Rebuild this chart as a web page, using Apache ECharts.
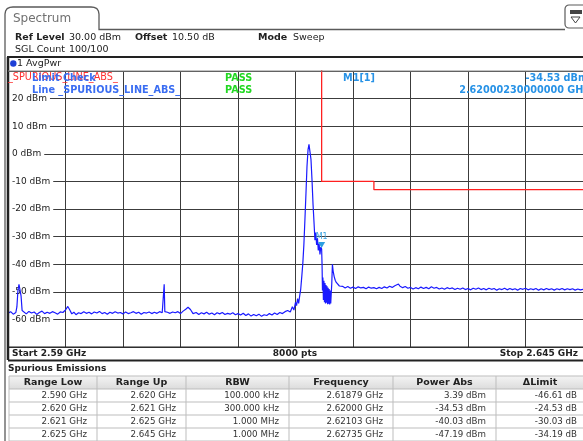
<!DOCTYPE html>
<html><head><meta charset="utf-8">
<script src="https://cdn.jsdelivr.net/npm/echarts@6/dist/echarts.min.js"></script>
<style>html,body{margin:0;padding:0;background:#fff}#c{width:583px;height:441px}</style>
</head><body><div id="c"></div><script>
// ---- data ----
const startMHz = 2590, stopMHz = 2645;
const yMin = -70, yMax = 30, yStep = 10;
const traceFreqMHz = [
2590.00,2590.25,2590.50,2590.75,2590.85,2590.95,2591.05,2591.15,2591.25,2591.35,
2591.50,2591.75,2592.00,2592.25,2592.50,2592.75,2593.00,2593.25,2593.50,2593.75,
2594.00,2594.25,2594.50,2594.75,2595.00,2595.25,2595.50,2595.72,2595.90,2596.10,
2596.30,2596.50,2596.75,2597.00,2597.25,2597.50,2597.75,2598.00,2598.25,2598.50,
2598.75,2599.00,2599.25,2599.50,2599.75,2600.00,2600.25,2600.50,2600.75,2601.00,
2601.25,2601.50,2601.75,2602.00,2602.25,2602.50,2602.75,2603.00,2603.25,2603.50,
2603.75,2604.00,2604.25,2604.50,2604.75,2604.88,2604.94,2605.00,2605.25,2605.50,
2605.75,2606.00,2606.25,2606.50,2606.75,2607.00,2607.22,2607.45,2607.70,2608.00,
2608.25,2608.50,2608.75,2609.00,2609.25,2609.50,2609.75,2610.00,2610.25,2610.50,
2610.75,2611.00,2611.25,2611.50,2611.75,2612.00,2612.25,2612.50,2612.75,2613.00,
2613.25,2613.50,2613.75,2614.00,2614.25,2614.50,2614.75,2615.00,2615.25,2615.50,
2615.75,2616.00,2616.25,2616.50,2616.75,2617.00,2617.20,2617.35,2617.50,2617.60,
2617.70,2617.80,2617.90,2618.00,2618.10,2618.20,2618.30,2618.40,2618.50,2618.60,
2618.70,2618.79,2618.88,2618.98,2619.08,2619.18,2619.28,2619.36,2619.44,2619.52,
2619.60,2619.68,2619.76,2619.84,2619.92,2620.00,2620.04,2620.08,2620.12,2620.17,
2620.22,2620.27,2620.32,2620.37,2620.42,2620.47,2620.52,2620.57,2620.62,2620.67,
2620.72,2620.77,2620.82,2620.87,2620.92,2620.97,2621.03,2621.10,2621.20,2621.30,
2621.40,2621.55,2621.70,2621.85,2622.00,2622.25,2622.50,2622.75,2623.00,2623.25,
2623.50,2623.75,2624.00,2624.25,2624.50,2624.75,2625.00,2625.25,2625.50,2625.75,
2626.00,2626.25,2626.50,2626.75,2627.00,2627.35,2627.50,2627.75,2628.00,2628.25,
2628.50,2628.75,2629.00,2629.25,2629.50,2629.75,2630.00,2630.25,2630.50,2630.75,
2631.00,2631.25,2631.50,2631.75,2632.00,2632.25,2632.50,2632.75,2633.00,2633.25,
2633.50,2633.75,2634.00,2634.25,2634.50,2634.75,2635.00,2635.25,2635.50,2635.75,
2636.00,2636.25,2636.50,2636.75,2637.00,2637.25,2637.50,2637.75,2638.00,2638.25,
2638.50,2638.75,2639.00,2639.25,2639.50,2639.75,2640.00,2640.25,2640.50,2640.75,
2641.00,2641.25,2641.50,2641.75,2642.00,2642.25,2642.50,2642.75,2643.00,2643.25,
2643.50,2643.75,2644.00,2644.25,2644.50,2644.75,2645.00
];
const tracePower = [
-57.8,-57.2,-58.1,-57.5,-55.5,-49.5,-47.3,-47.9,-51.5,-56.8,
-57.4,-58.0,-57.1,-57.7,-57.3,-58.2,-57.5,-57.0,-57.9,-57.4,
-57.8,-57.2,-57.6,-58.1,-57.3,-57.5,-56.6,-55.3,-56.5,-58.0,
-57.4,-58.3,-57.6,-57.9,-57.2,-57.8,-57.4,-58.0,-57.3,-57.7,
-57.1,-57.9,-57.5,-58.1,-57.4,-57.8,-57.2,-57.7,-57.5,-58.0,
-57.3,-57.9,-57.6,-57.2,-57.8,-57.4,-58.1,-57.5,-57.7,-57.3,
-57.9,-57.4,-57.8,-57.2,-57.6,-57.0,-47.3,-57.2,-57.4,-57.8,
-57.3,-57.6,-57.2,-57.9,-57.0,-56.3,-55.6,-56.4,-57.9,-57.5,
-58.2,-57.6,-58.0,-57.4,-58.1,-57.7,-58.3,-57.6,-58.0,-57.5,
-58.2,-57.8,-58.1,-57.6,-58.3,-57.9,-58.4,-57.8,-58.6,-58.0,
-58.8,-58.2,-58.7,-58.1,-58.9,-58.3,-58.6,-57.9,-58.4,-57.7,
-58.2,-57.5,-57.9,-57.2,-56.8,-57.3,-55.4,-56.6,-53.8,-55.0,
-52.5,-54.2,-51.5,-49.0,-44.5,-39.7,-33.0,-24.0,-14.5,-4.5,
1.5,3.39,2.8,-2.0,-9.6,-18.5,-25.5,-31.3,-28.5,-33.0,
-30.5,-35.0,-32.5,-36.5,-33.8,-34.53,-40.0,-49.5,-44.8,-53.0,
-46.0,-53.8,-46.8,-54.2,-47.5,-54.0,-48.0,-54.5,-48.5,-54.3,
-49.0,-54.6,-49.5,-54.2,-50.5,-47.0,-40.03,-42.5,-44.5,-45.8,
-46.6,-47.3,-47.9,-48.2,-48.0,-48.6,-48.1,-48.7,-48.3,-48.8,
-48.2,-48.6,-48.4,-48.9,-48.3,-48.7,-48.5,-48.9,-48.4,-48.8,
-48.2,-48.6,-48.0,-48.4,-47.8,-47.19,-48.0,-48.5,-48.1,-48.7,
-48.4,-49.0,-48.5,-48.9,-48.3,-48.8,-48.4,-48.9,-48.2,-48.7,
-48.4,-49.0,-48.6,-49.1,-48.5,-48.9,-48.6,-49.2,-48.7,-49.1,
-48.6,-49.2,-48.8,-49.3,-48.7,-49.1,-48.6,-49.2,-48.8,-49.3,
-48.7,-49.1,-48.8,-49.4,-48.9,-49.2,-48.7,-49.3,-48.8,-49.2,
-48.9,-49.4,-48.8,-49.1,-48.7,-49.3,-48.9,-49.2,-48.8,-49.4,
-48.9,-49.3,-48.8,-49.2,-48.9,-49.4,-48.9,-49.2,-48.8,-49.3,
-48.9,-49.2,-48.9,-49.4,-49.0,-49.3,-49.1
];
const limitFreqMHz = [2590, 2620, 2620, 2625, 2625, 2645];
const limitPower   = [50, 50, -10, -10, -13, -13];
const markerFreqMHz = 2620.0, markerPower = -34.53;
const tableHeaders = ['Range Low','Range Up','RBW','Frequency','Power Abs','\u0394Limit'];
const rangeLow   = ['2.590 GHz','2.620 GHz','2.621 GHz','2.625 GHz'];
const rangeUp    = ['2.620 GHz','2.621 GHz','2.625 GHz','2.645 GHz'];
const rbw        = ['100.000 kHz','300.000 kHz','1.000 MHz','1.000 MHz'];
const peakFreq   = ['2.61879 GHz','2.62000 GHz','2.62103 GHz','2.62735 GHz'];
const powerAbs   = ['3.39 dBm','-34.53 dBm','-40.03 dBm','-47.19 dBm'];
const deltaLimit = ['-46.61 dB','-24.53 dB','-30.03 dB','-34.19 dB'];

// ---- layout ----
const F = "'DejaVu Sans', Verdana, sans-serif";
const G = {left: 8, top: 71, width: 577, height: 276};
const colSep = [9, 97, 186, 289, 393, 496, 587];
const tableTop = 376, rowH = 13;

const graphics = [];
function txt(x, y, s, font, fill, align, z) {
  graphics.push({type:'text', x: x, y: y, z: z||10, silent:true,
    style:{text:s, font:font, fill:fill, textAlign: align||'left', textVerticalAlign:'middle'}});
}
function line(x1,y1,x2,y2,stroke,w){
  graphics.push({type:'line', z:9, silent:true, shape:{x1:x1,y1:y1,x2:x2,y2:y2}, style:{stroke:stroke, lineWidth:w}});
}
// tab & frame
graphics.push({type:'polyline', z:9, silent:true,
  shape:{points:[[5,441],[5,14],[5.6,11],[7.2,8.6],[9.8,7.4],[13,7],[91,7],[94.2,7.4],[96.8,8.6],[98.4,11],[99,14],[99,29.5],[565,29.5]]},
  style:{stroke:'#5a5a5a', lineWidth:1.3, fill:null}});
graphics.push({type:'rect', z:9, silent:true, shape:{x:565, y:5, width:26, height:23, r:4}, style:{stroke:'#5a5a5a', lineWidth:1.2, fill:'#fff'}});
graphics.push({type:'rect', z:10, silent:true, shape:{x:570, y:10, width:12, height:4}, style:{fill:'#444'}});
graphics.push({type:'polygon', z:10, silent:true, shape:{points:[[571,17],[580,17],[575.5,23]]}, style:{stroke:'#444', lineWidth:1, fill:'#fff'}});
txt(13, 18.5, 'Spectrum', '12px '+F, '#707070');
txt(15, 37.5, 'Ref Level', 'bold 9.5px '+F, '#222');
txt(69, 37.5, '30.00 dBm', '9.5px '+F, '#222');
txt(135, 37.5, 'Offset', 'bold 9.5px '+F, '#222');
txt(172, 37.5, '10.50 dB', '9.5px '+F, '#222');
txt(258, 37.5, 'Mode', 'bold 9.5px '+F, '#222');
txt(293, 37.5, 'Sweep', '9.5px '+F, '#222');
txt(15, 50, 'SGL Count', '9.5px '+F, '#222');
txt(69, 50, '100/100', '9.5px '+F, '#222');
line(7, 57, 583, 57, '#222', 2);
line(8, 57, 8, 360, '#222', 2.5);
graphics.push({type:'circle', z:10, silent:true, shape:{cx:13.3, cy:63.5, r:3.2}, style:{fill:'#1d3fd6'}});
txt(17, 63.5, '1 AvgPwr', '9.5px '+F, '#222');
line(8, 71, 583, 71, '#888', 1);
line(8, 347, 583, 347, '#222', 1.2);
txt(12, 354, 'Start 2.59 GHz', 'bold 9px '+F, '#222');
txt(295, 354, '8000 pts', 'bold 9px '+F, '#222', 'center');
txt(578, 354, 'Stop 2.645 GHz', 'bold 9px '+F, '#222', 'right');
line(8, 360.5, 583, 360.5, '#222', 2);
txt(8, 368.5, 'Spurious Emissions', 'bold 9px '+F, '#222');
// in-plot annotations
txt(8, 77.5, '_SPURIOUS_LINE_ABS_', '9.7px '+F, '#ff3030');
txt(32, 78, 'Limit Check', 'bold 9.7px '+F, '#3a6df2');
txt(225, 78, 'PASS', 'bold 9.7px '+F, '#22d822');
txt(32, 90, 'Line _SPURIOUS_LINE_ABS_', 'bold 9.7px '+F, '#3a6df2');
txt(225, 90, 'PASS', 'bold 9.7px '+F, '#22d822');
txt(343, 78, 'M1[1]', 'bold 9.7px '+F, '#2792e6');
txt(588, 78, '-34.53 dBm', 'bold 9.7px '+F, '#2792e6', 'right');
txt(589, 90, '2.62000230000000 GHz', 'bold 9.7px '+F, '#2792e6', 'right');
// table
const cols = [rangeLow, rangeUp, rbw, peakFreq, powerAbs, deltaLimit];
graphics.push({type:'rect', z:8, silent:true, shape:{x:colSep[0], y:tableTop, width:583-colSep[0], height:rowH},
  style:{fill:new echarts.graphic.LinearGradient(0,0,0,1,[{offset:0,color:'#f4f4f4'},{offset:1,color:'#dcdcdc'}])}});
for (let r = 0; r <= 5; r++) line(colSep[0], tableTop + r*rowH, 583, tableTop + r*rowH, '#bdbdbd', 1);
for (let c = 0; c < 6; c++) {
  line(colSep[c], tableTop, colSep[c], tableTop + 5*rowH, '#bdbdbd', 1);
  const cx = c === 5 ? 540 : (colSep[c] + colSep[c+1]) / 2;
  txt(cx, tableTop + rowH/2, tableHeaders[c], 'bold 9.5px '+F, '#222', 'center');
  for (let r = 0; r < 4; r++) txt(colSep[c+1]-10, tableTop + (r+1.5)*rowH, cols[c][r], '8.7px '+F, '#333', 'right');
}

const trace = traceFreqMHz.map(function(f,i){return [f, tracePower[i]];});
const limit = limitFreqMHz.map(function(f,i){return [f, limitPower[i]];});

const chart = echarts.init(document.getElementById('c'), null, {renderer:'canvas'});
chart.setOption({
  animation:false,
  backgroundColor:'#fff',
  grid: Object.assign({containLabel:false}, G),
  xAxis:[
    {type:'value', min:startMHz, max:stopMHz, axisLine:{show:false}, axisTick:{show:false}, axisLabel:{show:false}, splitLine:{show:false}},
    {type:'value', min:0, max:10, interval:1, axisLine:{show:false}, axisTick:{show:false}, axisLabel:{show:false},
      splitLine:{show:true, lineStyle:{color:'#3c3c3c', width:1}}}
  ],
  yAxis:[
    {type:'value', min:yMin, max:yMax, interval:yStep, axisLine:{show:false}, axisTick:{show:false}, axisLabel:{show:false},
      splitLine:{show:true, lineStyle:{color:'#3c3c3c', width:1}}},
    {type:'value', min:yMin, max:yMax, interval:yStep, z:1, axisLine:{show:false}, axisTick:{show:false}, splitLine:{show:false},
      position:'left',
      axisLabel:{show:true, inside:true, margin:0, showMinLabel:false, showMaxLabel:false,
        formatter:'{value} dBm', color:'#222', fontFamily:'DejaVu Sans', fontSize:9,
        backgroundColor:'#fff', padding:[1,3,0,4]}}
  ],
  series:[
    {type:'line', xAxisIndex:0, yAxisIndex:0, data:limit, symbol:'none', lineStyle:{color:'#ff2020', width:1.3}, z:3, clip:true, silent:true},
    {type:'line', xAxisIndex:0, yAxisIndex:0, data:trace, symbol:'none', lineStyle:{color:'#1a1aff', width:1.2}, z:4, clip:true, silent:true,
      markPoint:{symbol:'triangle', symbolSize:[7,6], symbolRotate:180, symbolOffset:[0,-4], silent:true,
        itemStyle:{color:'#2c9fe0'},
        label:{show:true, position:'top', distance:1, formatter:'M1', color:'#3aa3e0', fontSize:8, fontFamily:'DejaVu Sans'},
        data:[{coord:[markerFreqMHz, markerPower]}]}}
  ],
  graphic: graphics
});
</script></body></html>
